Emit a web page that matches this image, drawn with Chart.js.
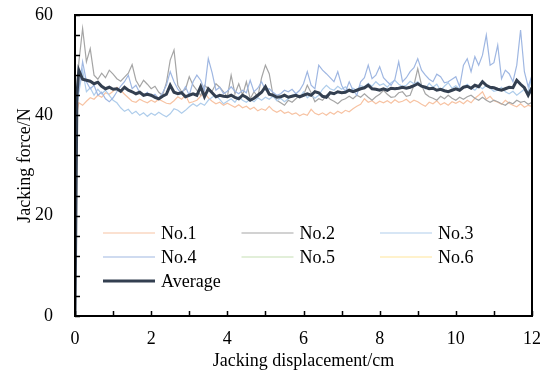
<!DOCTYPE html>
<html>
<head>
<meta charset="utf-8">
<script src="https://cdn.jsdelivr.net/npm/chart.js@4/dist/chart.umd.min.js"></script>
<style>
  html, body { margin: 0; padding: 0; background: #fff; }
  #wrap { width: 547px; height: 374px; }
</style>
</head>
<body>
<div id="wrap"><canvas id="chart" width="547" height="374"></canvas></div>
<script>
// displacement (cm)
const displacement = [0, 0.05,
  0.1, 0.2, 0.3, 0.4, 0.5, 0.6, 0.7, 0.8, 0.9, 1.0,
  1.1, 1.2, 1.3, 1.4, 1.5, 1.6, 1.7, 1.8, 1.9, 2.0,
  2.1, 2.2, 2.3, 2.4, 2.5, 2.6, 2.7, 2.8, 2.9, 3.0,
  3.1, 3.2, 3.3, 3.4, 3.5, 3.6, 3.7, 3.8, 3.9, 4.0,
  4.1, 4.2, 4.3, 4.4, 4.5, 4.6, 4.7, 4.8, 4.9, 5.0,
  5.1, 5.2, 5.3, 5.4, 5.5, 5.6, 5.7, 5.8, 5.9, 6.0,
  6.1, 6.2, 6.3, 6.4, 6.5, 6.6, 6.7, 6.8, 6.9, 7.0,
  7.1, 7.2, 7.3, 7.4, 7.5, 7.6, 7.7, 7.8, 7.9, 8.0,
  8.1, 8.2, 8.3, 8.4, 8.5, 8.6, 8.7, 8.8, 8.9, 9.0,
  9.1, 9.2, 9.3, 9.4, 9.5, 9.6, 9.7, 9.8, 9.9, 10.0,
  10.1, 10.2, 10.3, 10.4, 10.5, 10.6, 10.7, 10.8, 10.9, 11.0,
  11.1, 11.2, 11.3, 11.4, 11.5, 11.6, 11.7, 11.8, 11.9, 12.0];

// jacking force (N)
const no1Force = [0, 40.5,
  42.5, 42.0, 42.8, 43.5, 43.2, 44.0, 43.6, 44.5, 44.2, 44.8,
  45.6, 45.0, 44.2, 43.5, 42.8, 42.6, 43.2, 42.8, 42.5, 43.0,
  42.6, 43.2, 42.8, 42.4, 42.3, 42.9, 43.7, 43.2, 44.0, 42.5,
  42.7, 43.0, 43.8, 44.6, 43.5, 42.8, 42.3, 42.6, 42.0, 42.4,
  42.0, 41.6, 42.1, 41.5, 41.8, 41.2, 41.6, 40.9, 41.3, 41.0,
  41.8, 41.0, 40.6, 41.0, 40.4, 40.7, 40.2, 40.5, 39.9, 40.3,
  40.0, 41.2, 40.4, 40.1, 40.5, 40.0, 40.6, 40.2, 40.8, 40.4,
  41.0, 40.7, 41.3, 41.8, 42.2, 43.3, 42.6, 42.9, 42.3, 42.8,
  42.5, 42.9, 42.4, 43.1, 42.6, 42.8, 43.2, 42.5, 43.0, 42.7,
  42.2, 41.8, 42.6, 42.3, 42.9, 42.1, 42.5, 42.0, 42.7, 42.4,
  42.8, 42.3, 43.0, 42.5, 43.4, 44.0, 44.7, 43.2, 43.8, 42.9,
  42.6, 42.2, 43.0, 42.4, 42.0, 41.7, 42.3, 41.6, 42.0, 41.8];

const no2Force = [0, 44.0,
  50.5, 57.3, 50.7, 53.3, 48.0, 47.2, 48.4, 47.5, 49.0, 48.2,
  47.3, 46.8, 47.6, 48.4, 50.1, 47.0, 45.7, 47.0, 46.2, 45.3,
  45.8, 44.6, 44.0, 46.5, 51.0, 53.0, 46.0, 44.7, 45.2, 47.7,
  46.0, 45.0, 44.0, 46.0, 45.3, 44.8, 46.3, 45.6, 44.7, 43.7,
  48.0, 44.3, 46.3, 44.0, 46.7, 43.3, 44.7, 43.7, 47.5, 50.0,
  48.3, 44.0, 43.0, 42.5, 42.0, 43.0, 42.6, 43.3, 44.0, 44.0,
  46.0, 44.5, 42.7, 43.3, 43.0, 44.0, 43.2, 42.8, 42.3, 43.0,
  43.3, 43.8, 43.3, 44.0, 43.6, 44.3, 43.6, 43.0, 43.7, 44.2,
  45.0, 44.2, 43.6, 43.7, 44.5, 44.7, 43.8, 44.0, 46.0, 49.3,
  46.0, 44.3, 43.7, 43.4, 43.0, 43.8, 43.3, 44.0, 43.4, 43.0,
  43.6, 43.2, 43.7, 44.0, 43.4, 43.0, 43.6, 43.0, 42.6, 43.0,
  42.7, 42.3, 42.0, 42.6, 42.3, 43.0, 42.6, 42.8, 42.2, 42.6];

const no3Force = [0, 42.0,
  44.5, 49.0, 44.7, 45.5, 44.0, 45.2, 44.3, 45.0, 44.0, 43.0,
  42.5, 41.5, 40.8, 41.2, 40.3, 40.8, 40.0, 40.5, 39.8, 40.4,
  40.0, 40.6, 40.1, 39.7, 40.3, 41.3, 41.0, 40.4, 41.0, 41.7,
  42.3, 41.8, 42.4, 42.0, 43.0, 43.6, 44.0, 43.2, 42.3, 42.8,
  43.3, 42.6, 43.7, 43.0, 42.6, 43.2, 42.7, 43.5, 43.0, 43.6,
  43.2, 43.8, 42.9, 43.4, 42.7, 43.3, 44.0, 44.2, 43.6, 44.7,
  43.5, 44.2, 43.4, 44.0, 45.2, 46.0, 45.3, 45.0, 45.8, 45.2,
  45.7, 44.8, 45.4, 45.0, 45.9, 45.7, 46.4, 45.8, 46.7, 46.0,
  46.3, 45.6, 46.5, 47.0, 46.2, 45.8, 46.0, 46.8, 46.3, 46.7,
  46.0, 45.3, 46.4, 45.6, 46.2, 45.0, 45.8, 46.5, 45.4, 45.9,
  45.2, 45.7, 46.2, 45.5, 45.0, 45.8, 45.3, 46.0, 45.4, 44.8,
  45.0, 45.6, 44.7, 44.3, 44.8, 44.0, 44.6, 45.2, 44.7, 47.8];

const no4Force = [0, 42.0,
  45.0, 50.7, 46.7, 45.3, 46.0, 44.0, 44.6, 43.3, 42.7, 43.5,
  44.7, 45.8, 46.7, 48.0, 45.3, 46.0, 44.5, 44.0, 44.6, 43.7,
  44.2, 43.3, 44.5, 46.0, 48.7, 46.7, 45.2, 44.3, 45.7, 44.0,
  46.7, 48.0, 47.0, 45.0, 51.3, 48.5, 45.0, 45.6, 44.3, 44.8,
  45.7, 44.8, 44.3, 45.0, 44.5, 47.0, 44.7, 45.4, 46.7, 45.0,
  45.3, 44.6, 44.0, 44.3, 45.0, 44.7, 45.2, 44.3, 45.0, 46.3,
  48.7, 46.0, 45.3, 50.0, 49.0, 48.3, 47.5, 46.7, 48.7, 46.0,
  44.7, 46.7, 45.0, 44.0, 46.7, 47.5, 50.0, 47.3, 48.0, 49.7,
  47.5, 46.7, 46.0, 47.2, 50.7, 46.7, 47.5, 48.7, 49.5, 51.3,
  49.0, 48.0, 47.2, 46.7, 48.2, 47.7, 46.5, 46.7, 47.2, 47.7,
  45.7, 50.0, 51.3, 48.7, 51.7, 50.0, 52.0, 56.0, 50.0, 50.5,
  54.0, 47.3, 49.0, 48.3, 46.7, 50.0, 57.0, 48.7, 45.7, 48.0];

const no5Force = [];
const no6Force = [];

const averageForce = [0, 44.0,
  49.0, 47.2, 47.0, 46.8, 46.3, 46.6, 45.8, 45.3, 45.6, 45.2,
  45.3, 44.8, 45.6, 45.0, 44.7, 44.3, 44.6, 44.0, 44.2, 44.0,
  43.6, 43.3, 43.8, 44.2, 46.0, 44.6, 44.3, 44.5, 43.7, 44.0,
  44.3, 44.0, 45.7, 43.7, 45.3, 44.5, 43.7, 44.0, 43.8, 43.7,
  44.0, 43.6, 43.3, 44.0, 43.6, 43.0, 43.4, 44.0, 44.6, 45.7,
  44.2, 44.0, 43.6, 43.7, 44.0, 43.6, 43.8, 44.0, 43.7, 44.0,
  44.3, 44.0, 44.7, 44.5, 43.8, 43.6, 44.5, 44.3, 44.7, 44.5,
  44.6, 45.0, 44.7, 45.0, 45.3, 45.5, 46.0, 45.3, 45.2, 45.0,
  45.3, 45.0, 45.4, 45.3, 45.4, 45.6, 45.4, 45.6, 45.9, 46.3,
  45.8, 45.6, 45.3, 45.4, 45.0, 45.2, 44.9, 44.7, 45.0, 45.3,
  45.0, 45.6, 45.8, 45.4, 46.0, 45.7, 46.7, 46.0, 45.6, 45.5,
  45.2, 45.0, 45.3, 45.6, 45.5, 47.0, 46.2, 45.5, 44.0, 45.5];

const seriesNames = ["No.1", "No.2", "No.3", "No.4", "No.5", "No.6", "Average"];
const seriesValues = [no1Force, no2Force, no3Force, no4Force, no5Force, no6Force, averageForce];
const seriesColors = ["#F7C3A3", "#A5A5A5", "#AFCDEB", "#9FB7E2", "#C5E0B4", "#FFE699", "#333F50"];

const serif = '"Liberation Serif", "Times New Roman", serif'

function points(values) {
    return values.map((v, i) => ({ x: displacement[i], y: v }))
}

// inside tick marks + frame
const frameTicks = {
    id: "frameTicks",
    afterDraw(chart) {
        const { ctx, chartArea: a, scales } = chart
        ctx.save()
        ctx.strokeStyle = "#000"
        ctx.lineWidth = 1.5
        ctx.beginPath()
        scales.x.ticks.forEach(t => {
            const px = Math.round(scales.x.getPixelForValue(t.value)) + 0.5
            ctx.moveTo(px, a.bottom)
            ctx.lineTo(px, a.bottom - 5)
        })
        scales.y.ticks.forEach(t => {
            const py = Math.round(scales.y.getPixelForValue(t.value)) + 0.5
            ctx.moveTo(a.left, py)
            ctx.lineTo(a.left + 5, py)
        })
        ctx.stroke()
        ctx.lineWidth = 2
        ctx.strokeRect(a.left, a.top, a.right - a.left, a.bottom - a.top)
        ctx.restore()
    }
}

// three-column legend inside the plot
const gridLegend = {
    id: "gridLegend",
    afterDraw(chart) {
        const { ctx, chartArea: a } = chart
        ctx.save()
        ctx.font = "18px " + serif
        ctx.textBaseline = "middle"
        ctx.fillStyle = "#000"
        chart.data.datasets.forEach((ds, i) => {
            const x = a.left + 28 + (i % 3) * 138.5
            const y = a.top + 218 + Math.floor(i / 3) * 24
            ctx.strokeStyle = ds.borderColor
            ctx.lineWidth = ds.borderWidth
            ctx.beginPath()
            ctx.moveTo(x, y)
            ctx.lineTo(x + 52, y)
            ctx.stroke()
            ctx.fillText(ds.label, x + 58, y + 1)
        })
        ctx.restore()
    }
}

function noEdgePadding(s) {
    s.paddingTop = 0
    s.paddingBottom = 0
    s.paddingLeft = 0
    s.paddingRight = 0
}

new Chart(document.getElementById("chart"), {
    type: "line",
    data: {
        datasets: seriesNames.map((name, i) => ({
            label: name,
            data: points(seriesValues[i]),
            borderColor: seriesColors[i],
            borderWidth: i === 6 ? 3 : 1.2,
            pointRadius: 0,
            tension: 0,
            order: 6 - i
        }))
    },
    options: {
        responsive: false,
        animation: false,
        layout: { padding: { top: 15, right: 15, left: 0, bottom: 0 } },
        plugins: {
            legend: { display: false },
            tooltip: { enabled: false }
        },
        scales: {
            x: {
                type: "linear",
                min: 0,
                max: 12,
                grid: { display: false },
                border: { display: false },
                ticks: {
                    stepSize: 1,
                    padding: 4,
                    color: "#000",
                    font: { family: serif, size: 18 },
                    maxRotation: 0,
                    autoSkip: false,
                    callback: v => (v % 2 === 0 ? v : "")
                },
                title: {
                    display: true,
                    text: "Jacking displacement/cm",
                    color: "#000",
                    font: { family: serif, size: 18 },
                    padding: { top: 0, bottom: 2 }
                },
                afterFit: s => { noEdgePadding(s); s.height = 58 }
            },
            y: {
                min: 0,
                max: 60,
                grid: { display: false },
                border: { display: false },
                ticks: {
                    stepSize: 4,
                    padding: 14,
                    color: "#000",
                    font: { family: serif, size: 18 },
                    autoSkip: false,
                    callback: v => (v % 20 === 0 ? v : "")
                },
                title: {
                    display: true,
                    text: "Jacking force/N",
                    color: "#000",
                    font: { family: serif, size: 18 },
                    padding: { top: 14, bottom: 0 }
                },
                afterFit: s => { noEdgePadding(s); s.width = 75 }
            }
        }
    },
    plugins: [frameTicks, gridLegend]
})
</script>
</body>
</html>
